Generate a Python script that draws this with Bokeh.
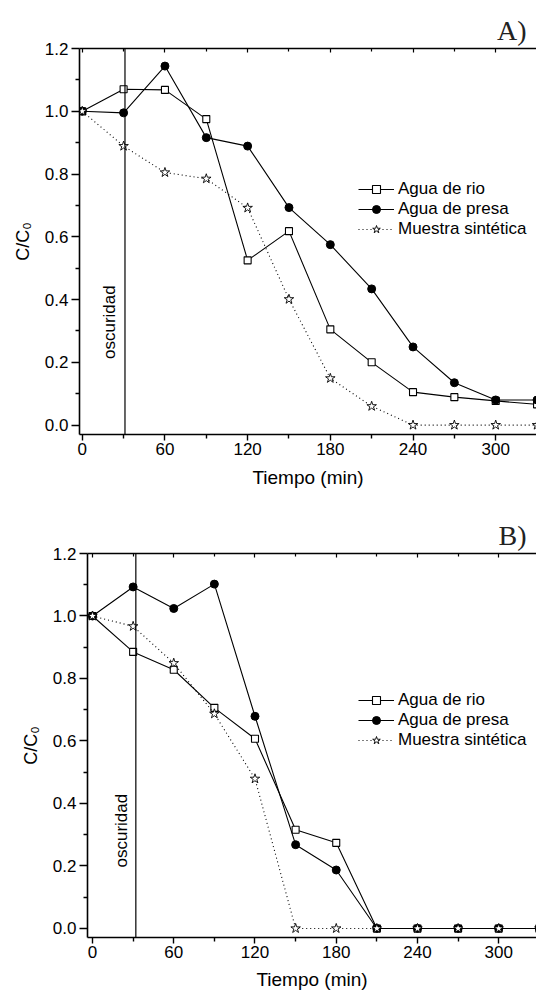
import math
from bokeh.plotting import figure
from bokeh.models import Span, Label, LinearAxis, FixedTicker, Range1d
from bokeh.layouts import column
from bokeh.embed import file_html
from bokeh.resources import INLINE

# ---- data ----
tiempo = [0, 30, 60, 90, 120, 150, 180, 210, 240, 270, 300, 330]

a_rio = [1.0, 1.070, 1.068, 0.975, 0.525, 0.618, 0.305, 0.200, 0.105, 0.089, 0.077, 0.066]
a_presa = [1.0, 0.995, 1.144, 0.916, 0.889, 0.693, 0.575, 0.434, 0.249, 0.135, 0.080, 0.080]
a_sint = [1.0, 0.889, 0.805, 0.785, 0.692, 0.401, 0.149, 0.060, 0.0, 0.0, 0.0, 0.0]

b_rio = [1.0, 0.885, 0.828, 0.706, 0.607, 0.316, 0.274, 0.0, 0.0, 0.0, 0.0, 0.0]
b_presa = [1.0, 1.093, 1.024, 1.102, 0.679, 0.268, 0.187, 0.0, 0.0, 0.0, 0.0, 0.0]
b_sint = [1.0, 0.967, 0.849, 0.687, 0.479, 0.0, 0.0, 0.0, 0.0, 0.0, 0.0, 0.0]

x_major = [0, 60, 120, 180, 240, 300]
x_minor = [30, 90, 150, 210, 270, 330]
y_major = [0.0, 0.2, 0.4, 0.6, 0.8, 1.0, 1.2]
y_minor = [0.1, 0.3, 0.5, 0.7, 0.9, 1.1]

labels = ["Agua de rio", "Agua de presa", "Muestra sintética"]

FONT = "Liberation Sans"


def make_panel(tag, rio, presa, sint, height, border_left, border_top, border_bottom,
               xr, yr, dark_x, osc_x, osc_y, leg_loc, xlab_standoff, ylab_standoff):
    p = figure(width=536, height=height, output_backend="svg", toolbar_location=None,
               x_range=Range1d(*xr), y_range=Range1d(*yr),
               min_border_left=border_left, min_border_right=0,
               min_border_top=border_top, min_border_bottom=border_bottom,
               background_fill_color="white", border_fill_color="white",
               frame_align=False)
    p.outline_line_color = None
    p.grid.visible = False

    # title A) / B)
    p.title.text = tag
    p.title.align = "right"
    p.title.text_font = "Liberation Serif"
    p.title.text_font_size = "28px"
    p.title.text_font_style = "normal"
    p.title.text_color = "#222222"
    p.title.offset = 10
    p.title.standoff = 6

    # axes styling
    for ax in (p.xaxis[0], p.yaxis[0]):
        ax.axis_line_width = 1.6
        ax.major_tick_line_width = 1.4
        ax.minor_tick_line_width = 1.4
        ax.major_tick_in = 0
        ax.minor_tick_in = 0
        ax.major_label_text_font = FONT
        ax.major_label_text_font_size = "17px"
        ax.major_label_text_color = "black"
        ax.axis_label_text_font = FONT
        ax.axis_label_text_font_style = "normal"
        ax.axis_label_text_color = "black"
        ax.axis_line_color = "black"
        ax.major_tick_line_color = "black"
        ax.minor_tick_line_color = "black"

    p.xaxis.ticker = FixedTicker(ticks=x_major, minor_ticks=x_minor)
    p.xaxis.major_tick_out = 6
    p.xaxis.minor_tick_out = 4
    p.xaxis.major_label_standoff = 2
    p.xaxis.axis_label = "Tiempo (min)"
    p.xaxis.axis_label_text_font_size = "19px"
    p.xaxis.axis_label_standoff = xlab_standoff

    p.yaxis.ticker = FixedTicker(ticks=y_major, minor_ticks=y_minor)
    p.yaxis.major_tick_out = 8
    p.yaxis.minor_tick_out = 4
    p.yaxis.major_label_standoff = 3
    p.yaxis.major_label_overrides = {v: f"{v:.1f}" for v in y_major}
    p.yaxis.axis_label = "C/C\u2080"
    p.yaxis.axis_label_text_font_size = "18px"
    p.yaxis.axis_label_standoff = ylab_standoff

    top = LinearAxis(ticker=FixedTicker(ticks=x_major, minor_ticks=x_minor),
                     major_label_text_font_size="2px", major_label_standoff=0,
                     major_label_overrides={v: "" for v in x_major},
                     major_tick_in=4, major_tick_out=0, minor_tick_in=3, minor_tick_out=0,
                     axis_line_width=1.6, major_tick_line_width=1.2, minor_tick_line_width=1.2)
    p.add_layout(top, "above")

    # darkness line
    p.add_layout(Span(location=dark_x, dimension="height", line_color="black", line_width=1.2))
    p.add_layout(Label(x=osc_x, y=osc_y, text="oscuridad", angle=math.pi / 2,
                       text_align="center", text_baseline="middle",
                       text_font=FONT, text_font_size="17px", text_color="black"))

    # series
    p.line(tiempo, rio, line_color="black", line_width=1.1, legend_label=labels[0])
    p.scatter(tiempo, rio, marker="square", size=7, fill_color="white", line_color="black",
              line_width=1.1, legend_label=labels[0])
    p.line(tiempo, presa, line_color="black", line_width=1.1, legend_label=labels[1])
    p.scatter(tiempo, presa, marker="circle", size=8, fill_color="black", line_color="black",
              legend_label=labels[1])
    p.line(tiempo, sint, line_color="black", line_width=1.1, line_dash="1 3",
           legend_label=labels[2])
    p.scatter(tiempo, sint, marker="star", size=10, fill_color="white", line_color="black",
              line_width=0.9, legend_label=labels[2])

    lg = p.legend[0]
    lg.location = leg_loc
    lg.glyph_width = 36
    lg.glyph_height = 20
    lg.label_height = 20
    lg.spacing = 0
    lg.padding = 0
    lg.margin = 0
    lg.label_standoff = 4
    lg.label_text_font = FONT
    lg.label_text_font_size = "17px"
    lg.label_text_color = "black"
    lg.background_fill_alpha = 0
    lg.border_line_alpha = 0
    return p


p1 = make_panel("A)", a_rio, a_presa, a_sint, height=505, border_left=79, border_top=48,
                border_bottom=71, xr=(-2, 329.6), yr=(-0.03, 1.2), dark_x=31,
                osc_x=19.8, osc_y=0.328, leg_loc=(279, 195), xlab_standoff=9,
                ylab_standoff=9)
p2 = make_panel("B)", b_rio, b_presa, b_sint, height=490, border_left=87, border_top=48,
                border_bottom=58, xr=(-3.7, 327.9), yr=(-0.029, 1.2), dark_x=32,
                osc_x=21.2, osc_y=0.313, leg_loc=(271, 187), xlab_standoff=8,
                ylab_standoff=9)

layout = column(p1, p2, spacing=0)
open("out.html", "w").write(file_html(layout, INLINE))
